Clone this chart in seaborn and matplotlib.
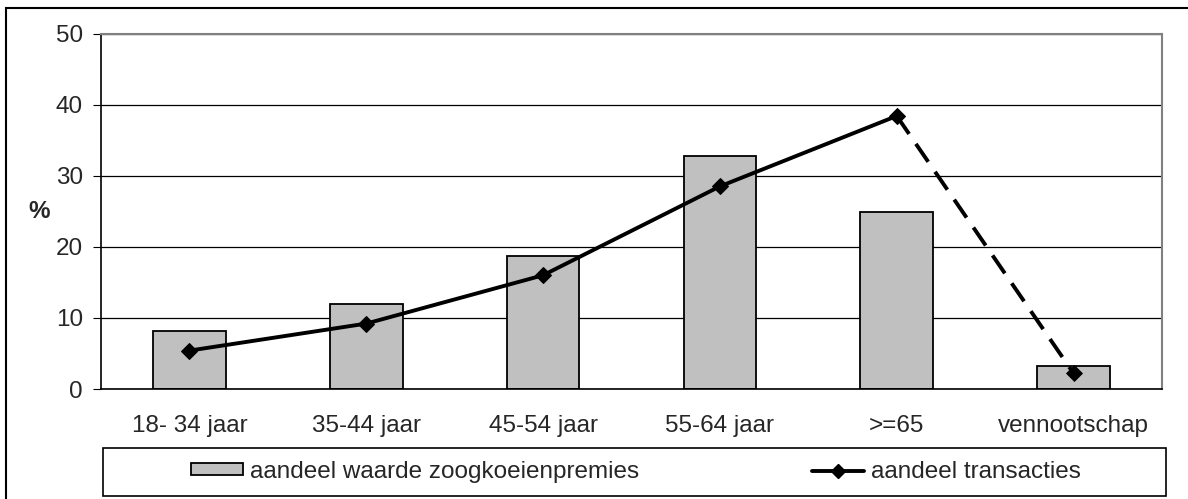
import numpy as np
import pandas as pd
import matplotlib
matplotlib.use("Agg")
import matplotlib.pyplot as plt
import seaborn as sns
from matplotlib.patches import Patch, Rectangle
from matplotlib.lines import Line2D

categories = ["18- 34 jaar", "35-44 jaar", "45-54 jaar", "55-64 jaar", ">=65", "vennootschap"]
premies = [8.1, 11.9, 18.7, 32.8, 24.9, 3.3]
transacties = [5.4, 9.2, 16.0, 28.5, 38.4, 2.2]
yticks = [0, 10, 20, 30, 40, 50]
legend_labels = ["aandeel waarde zoogkoeienpremies", "aandeel transacties"]

sns.set_style("white")
plt.rcParams["font.family"] = ["Liberation Sans", "DejaVu Sans"]
FS = 17.5
LW = 2.8

W, H = 1188, 499
fig = plt.figure(figsize=(W / 100, H / 100), dpi=100)
ax = fig.add_axes([101 / W, (H - 389) / H, (1162 - 101) / W, (389 - 33.5) / H])

df = pd.DataFrame({"cat": categories, "premies": premies})
sns.barplot(data=df, x="cat", y="premies", color="#c0c0c0", saturation=1,
            edgecolor="black", linewidth=1.3, width=0.41, ax=ax, zorder=3)

pos = np.arange(len(categories))
line_df = pd.DataFrame({"x": pos, "y": transacties})
sns.lineplot(data=line_df.iloc[:5], x="x", y="y", color="black", linewidth=LW,
             marker="D", markersize=8.5, markeredgecolor="black", sort=False,
             ax=ax, zorder=5)
sns.lineplot(data=line_df.iloc[4:], x="x", y="y", color="black", linewidth=LW,
             ax=ax, zorder=4, sort=False, dashes=False)
ax.lines[-1].set_dashes((5.6, 3.1))
sns.scatterplot(data=line_df.iloc[5:], x="x", y="y", color="black", marker="D",
                s=65, edgecolor="black", ax=ax, zorder=6)

ax.set_xlim(-0.5, len(categories) - 0.5)
ax.set_ylim(0, 50)
ax.set_yticks(yticks)
ax.set_yticklabels([str(v) for v in yticks], fontsize=FS)
ax.set_xticks(pos)
ax.set_xticklabels(categories, fontsize=FS)
ax.set_xticks(np.arange(-0.5, len(categories), 1.0), minor=True)
ax.tick_params(axis="x", which="major", length=0, pad=19)
ax.tick_params(axis="x", which="minor", direction="inout", length=11, width=0.8, color="black")
ax.tick_params(axis="y", which="major", direction="out", length=6, width=0.8, color="black", pad=7, left=True)
ax.set_xlabel("")
ax.set_ylabel("%", fontsize=FS, fontweight="bold", rotation=0, va="center", ha="center")
ax.yaxis.set_label_coords(-0.058, 0.5)

ax.grid(axis="y", color="black", linewidth=0.9, zorder=0)
ax.grid(axis="x", visible=False)
ax.set_axisbelow(True)
for side in ["left", "bottom"]:
    ax.spines[side].set_color("black")
    ax.spines[side].set_linewidth(1.2)
for side in ["top", "right"]:
    ax.spines[side].set_color("#808080")
    ax.spines[side].set_linewidth(1.5)
ax.spines["bottom"].set_zorder(10)

# outer chart frame (only top and left edges inside the image)
fig.patches.append(Rectangle((6 / W, -0.1), 2.0, (H - 8) / H + 0.1, transform=fig.transFigure,
                             fill=False, edgecolor="black", linewidth=1.5))

# legend frame
fig.patches.append(Rectangle((103 / W, (H - 496) / H), (1166 - 103) / W, 48 / H,
                             transform=fig.transFigure, fill=False, edgecolor="black", linewidth=1.2))

handles = [Patch(facecolor="#c0c0c0", edgecolor="black", linewidth=1.3),
           Line2D([], [], color="black", linewidth=LW, marker="D", markersize=7)]
fig.legend(handles, legend_labels, loc="center", bbox_to_anchor=(636 / W, (H - 472) / H),
           ncol=2, frameon=False, fontsize=FS, handlelength=2.15, handleheight=0.4,
           handletextpad=0.3, columnspacing=7.1, borderpad=0, borderaxespad=0)

fig.savefig("out.png", dpi=100)
